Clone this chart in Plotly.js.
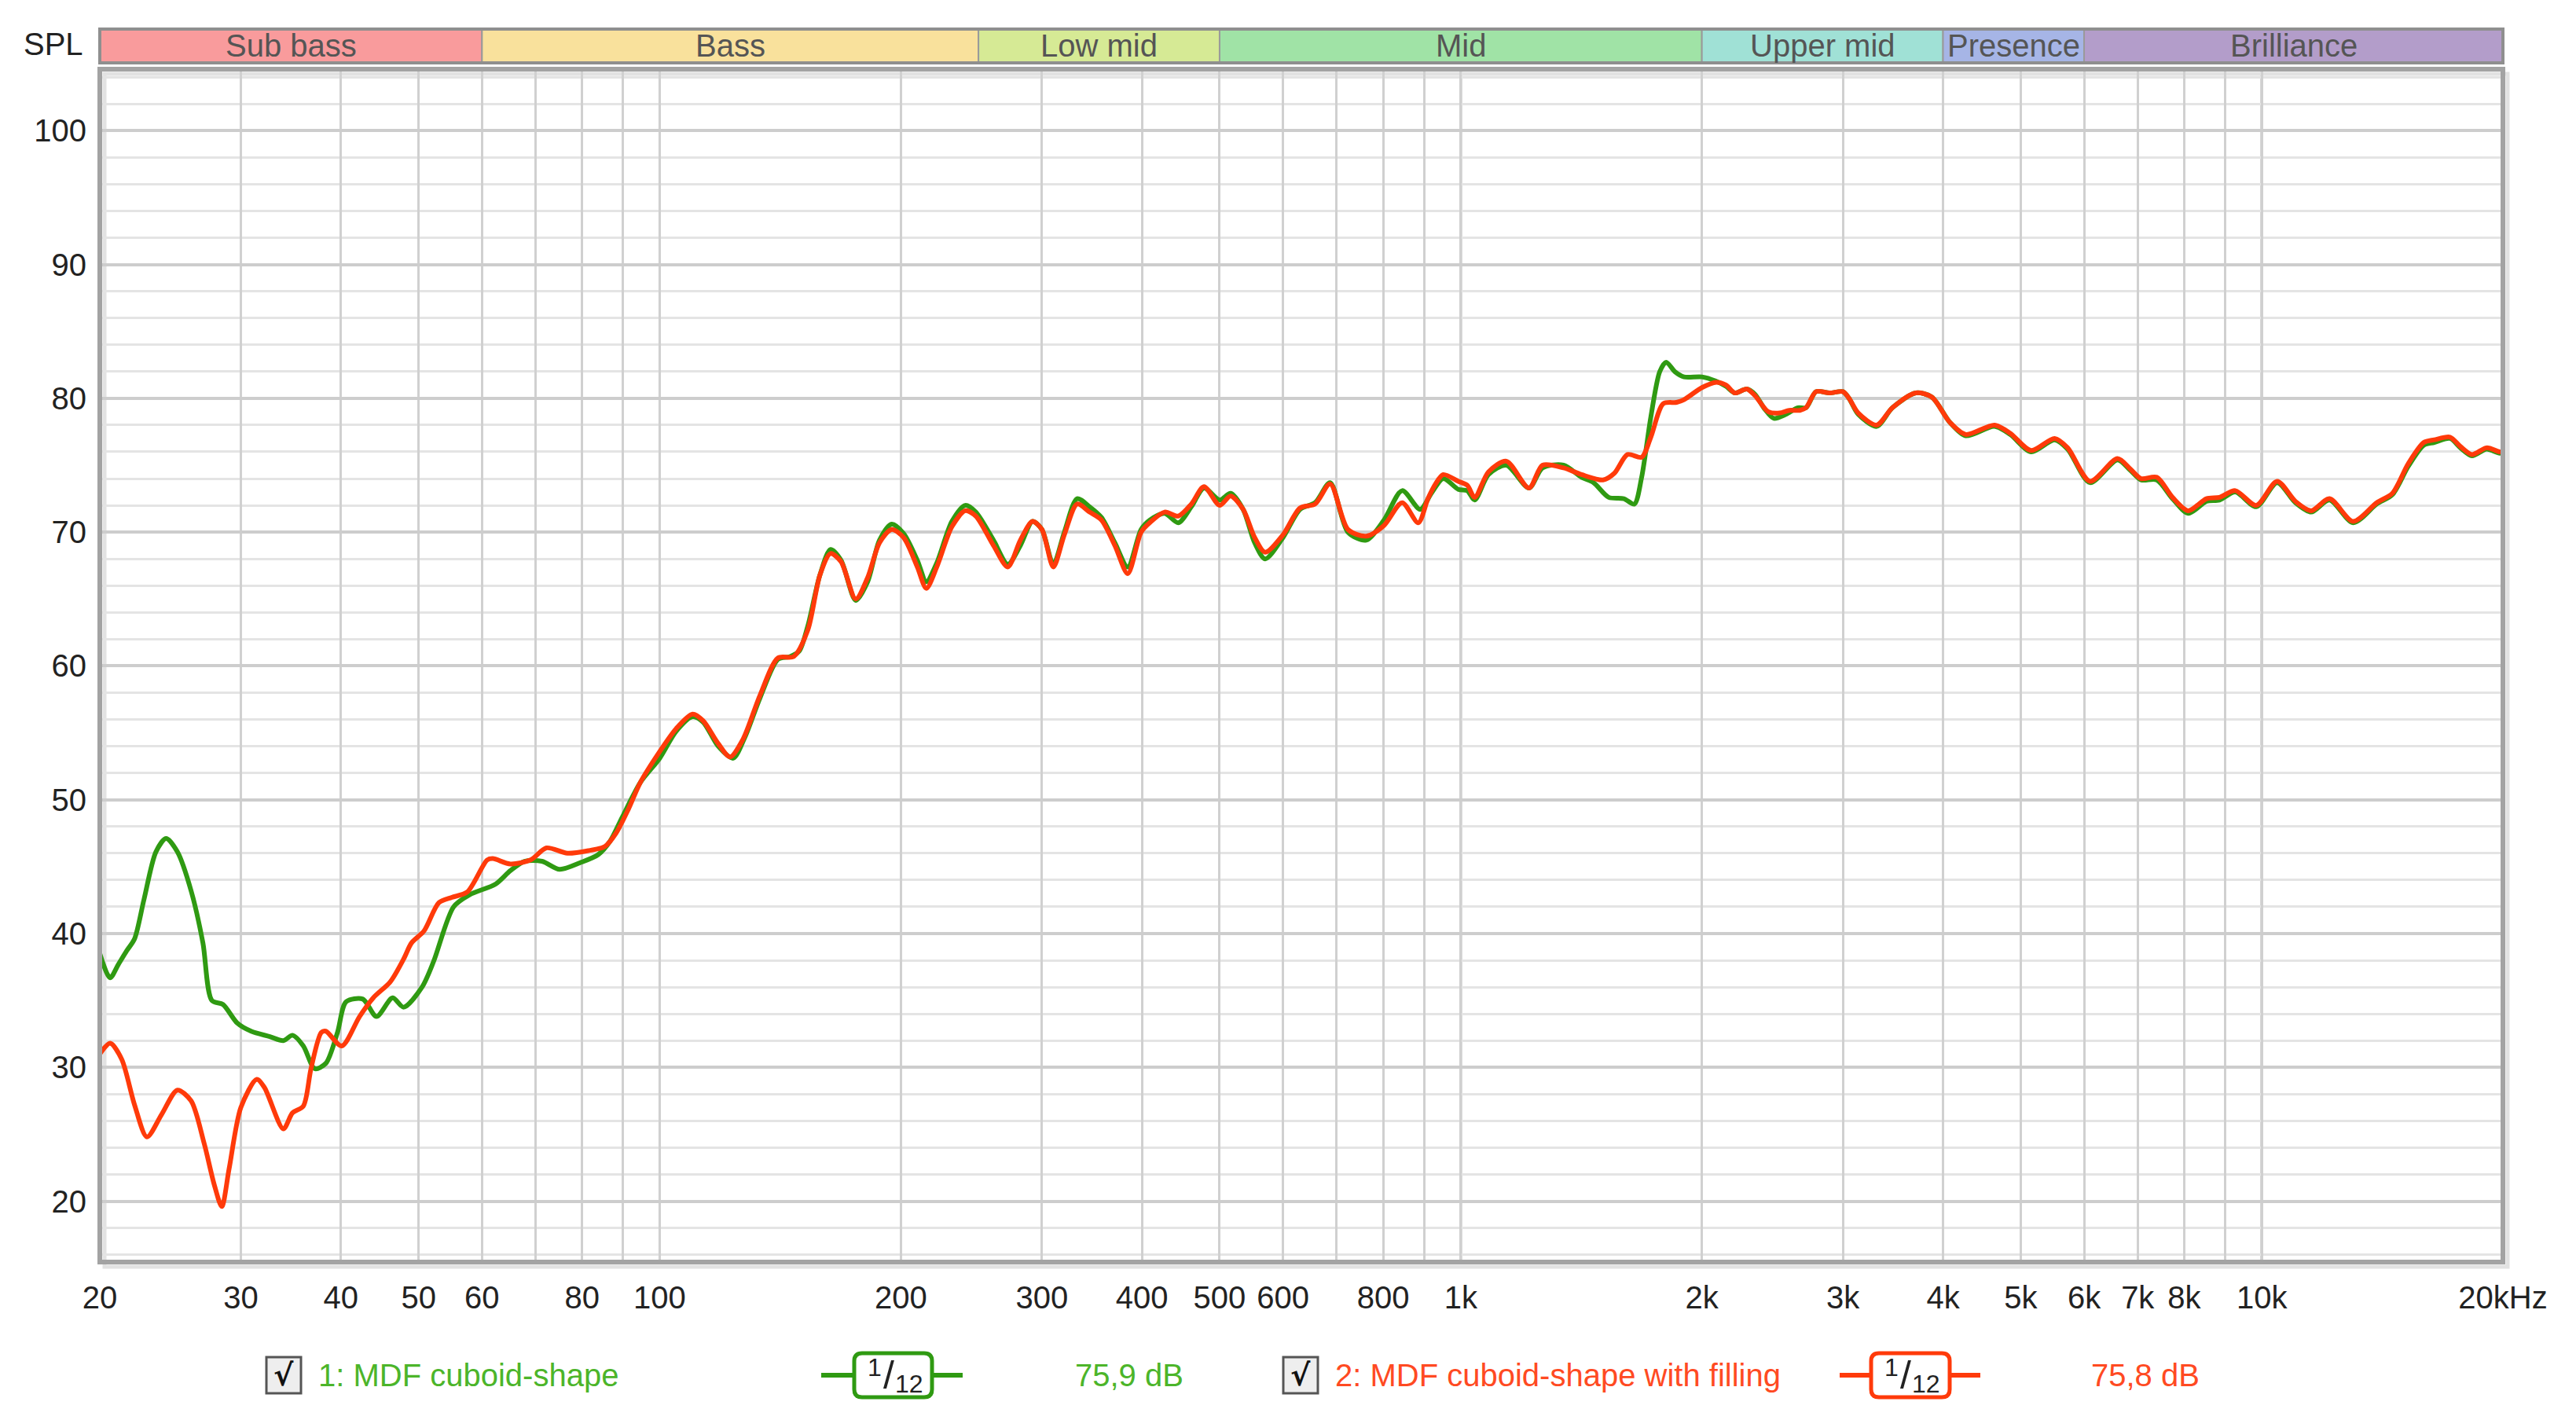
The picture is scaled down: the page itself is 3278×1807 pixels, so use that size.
<!DOCTYPE html>
<html>
<head>
<meta charset="utf-8">
<script src="https://cdn.plot.ly/plotly-3.0.1.min.js"></script>
<style>
  html, body { margin: 0; padding: 0; background: #ffffff; }
  #chart { width: 3278px; height: 1807px; }
</style>
</head>
<body>
<div id="chart"></div>
<script>
// ---------------- DATA ----------------
const freqGreen = [20,20.6,21.1,21.6,22.1,22.7,23.5,24.2,25.0,26.0,26.9,27.6,28.5,29.7,30.9,32.6,33.9,34.8,35.9,37.1,38.3,39.6,40.6,42.6,44.3,46.4,47.9,50.5,52.2,55.3,57.9,62.4,65.1,67.8,71.3,75.0,79.6,83.8,86.7,89.8,94.6,100,104.8,109.9,113.3,118.3,123.5,127.8,133.4,140.5,145.5,149.3,153.1,158.5,163.4,168.4,175.7,181.8,188.1,194.8,201.6,209.7,215.2,221.8,231.6,240.7,248.1,261,272,282,292,300,310,320,332,344,356,370,384,399,409,427,444,461,478,500,516,535,553,570,600,630,658,687,723,762,802,845,890,919,951,993,1019,1041,1083,1140,1217,1265,1344,1415,1465,1530,1598,1647,1682,1727,1772,1805,1850,1900,2000,2080,2143,2199,2276,2330,2396,2460,2546,2636,2698,2777,2886,3000,3053,3135,3305,3459,3699,3873,4080,4270,4637,4851,5152,5512,5724,6103,6606,6857,7068,7395,7737,8095,8530,8857,9267,9843,10451,11016,11526,12148,13004,13914,14557,15230,15932,16420,17180,17700,18300,19080,19810,20000];
const splGreen = [38.5,36.7,37.7,38.7,39.6,42.5,46.1,47.1,46.1,43.2,39.3,35.0,34.7,33.3,32.7,32.3,32.0,32.4,31.6,29.9,30.3,32.6,34.9,35.1,33.8,35.2,34.5,36.0,37.9,42.0,42.9,43.7,44.7,45.4,45.4,44.8,45.3,45.9,46.9,48.7,51.3,53.1,55.1,56.2,55.8,54.0,53.1,54.7,57.6,60.5,60.7,61.1,63.0,66.8,68.7,67.9,64.9,66.3,69.4,70.6,69.9,67.9,66.3,67.7,70.8,72.0,71.5,69.4,67.6,69.0,70.8,70.2,67.6,70.0,72.5,71.9,71.1,69.2,67.4,70.2,70.9,71.4,70.7,71.9,73.3,72.4,72.9,71.7,69.2,68.0,69.6,71.7,72.2,73.7,70.0,69.4,70.9,73.1,71.7,72.9,74.0,73.2,73.1,72.4,74.3,75.0,73.3,74.8,75.0,74.1,73.7,72.6,72.5,72.1,74.1,78.6,82.0,82.7,82.0,81.6,81.6,81.3,80.9,80.4,80.7,80.3,79.2,78.5,78.8,79.3,79.3,80.5,80.4,80.5,80.0,78.8,77.9,79.3,80.4,80.1,78.2,77.2,77.9,77.3,76.0,76.9,76.2,73.7,75.4,74.6,73.9,73.9,72.5,71.4,72.3,72.4,73.0,71.9,73.7,72.2,71.5,72.4,70.7,72.1,72.8,74.9,76.5,76.7,77.0,76.3,75.7,76.2,75.9,76.0];

const freqRed = [20,20.6,21.3,22.1,22.9,23.9,25.0,26.0,27.0,27.8,28.4,29.0,30.0,31.4,32.1,33.9,34.8,35.9,36.7,37.8,38.3,40.1,42.2,43.9,46.1,47.9,49.0,50.8,53.0,55.0,57.5,60.9,61.9,65.1,69.0,72.2,76.7,81.6,85.4,88.2,91.4,94.6,100,104.8,109.9,113.3,118.3,122.4,127,133.4,140.5,147,153.1,158.5,163.4,168.4,175.7,181.8,188.1,194.8,201.6,209.7,215.2,221.8,231.6,240.7,248.1,261,272,282,292,300,310,320,332,344,356,370,384,399,409,427,444,461,478,500,516,535,553,570,600,630,658,687,723,762,802,845,885,910,930,951,993,1019,1041,1083,1140,1217,1265,1344,1415,1505,1555,1615,1682,1727,1790,1860,1900,2000,2085,2143,2199,2276,2330,2420,2500,2570,2650,2698,2777,2886,3000,3053,3135,3305,3459,3699,3873,4080,4270,4637,4851,5152,5512,5724,6103,6606,6857,7068,7395,7737,8095,8530,8857,9267,9843,10451,11016,11526,12148,13004,13914,14557,15230,15932,16420,17180,17700,18300,19080,19810,20000];
const splRed = [31.0,31.8,30.6,27.2,24.8,26.5,28.3,27.5,24.3,21.2,19.6,22.4,27.0,29.1,28.5,25.4,26.6,27.1,29.9,32.6,32.7,31.6,33.8,35.2,36.4,38.1,39.3,40.2,42.3,42.7,43.1,45.5,45.6,45.2,45.5,46.4,46.0,46.2,46.5,47.5,49.3,51.3,53.6,55.3,56.4,55.9,54.2,53.2,54.5,57.8,60.6,60.7,62.7,66.8,68.4,67.8,65.0,66.6,69.2,70.2,69.6,67.4,65.8,67.4,70.4,71.6,71.2,69.0,67.4,69.4,70.8,70.2,67.4,69.8,72.1,71.5,70.9,69.0,66.9,70.0,70.7,71.5,71.2,72.1,73.4,72.0,72.7,71.7,69.6,68.5,69.8,71.8,72.1,73.6,70.2,69.7,70.5,72.2,70.7,72.5,73.6,74.3,73.8,73.5,72.6,74.5,75.3,73.3,75.0,74.8,74.3,73.9,74.4,75.8,75.6,77.1,79.6,79.7,79.9,80.8,81.2,81.0,80.4,80.7,80.2,79.0,78.9,79.1,79.1,79.3,80.5,80.4,80.5,80.0,78.9,78.0,79.3,80.4,80.1,78.2,77.3,78.0,77.4,76.1,77.0,76.3,73.8,75.5,74.7,74.0,74.1,72.6,71.6,72.5,72.6,73.1,72.0,73.8,72.3,71.6,72.5,70.8,72.2,72.9,75.1,76.7,76.9,77.1,76.4,75.8,76.3,76.0,76.0];

const seriesNames = ["1: MDF cuboid-shape", "2: MDF cuboid-shape with filling"];
const seriesAverages = ["75,9 dB", "75,8 dB"];
const smoothingLabel = ["1", "12"];

const xTickVals = [20,30,40,50,60,70,80,90,100,200,300,400,500,600,700,800,900,1000,2000,3000,4000,5000,6000,7000,8000,9000,10000,20000];
const xTickText = ["20","30","40","50","60","","80","","100","200","300","400","500","600","","800","","1k","2k","3k","4k","5k","6k","7k","8k","","10k","20kHz"];
const yTickVals = [20,30,40,50,60,70,80,90,100];
const decadeLines = [100, 1000, 10000];

const bandNames = ["Sub bass","Bass","Low mid","Mid","Upper mid","Presence","Brilliance"];
const bandEdges = [20, 60, 250, 500, 2000, 4000, 6000, 20000];
const bandColors = ["#f99b9c","#f9e19c","#d6ea95","#a0e3a6","#a0e1d6","#a6b5e6","#b39dca"];

// ---------------- GEOMETRY ----------------
const W = 3278, H = 1807;
const L = 127, R = 93, T = 88, B = 201;
const PW = W - L - R, PH = H - T - B;
const px = X => (X - L) / PW;          // pixel -> paper x
const py = Y => (H - B - Y) / PH;      // pixel -> paper y

const GREEN = "#2f9a12", RED = "#ff3a0a";
const GREEN_TXT = "#4cb52a", RED_TXT = "#ff4a22";
const FONT = "Liberation Sans, Arial, sans-serif";

const traces = [
  { x: freqGreen, y: splGreen, type: "scatter", mode: "lines", name: seriesNames[0],
    line: { color: GREEN, width: 6, shape: "spline", smoothing: 0.8 }, hoverinfo: "skip" },
  { x: freqRed, y: splRed, type: "scatter", mode: "lines", name: seriesNames[1],
    line: { color: RED, width: 6, shape: "spline", smoothing: 0.8 }, hoverinfo: "skip" }
];

const shapes = [];
const annotations = [];

// decade lines (darker)
decadeLines.forEach(f => shapes.push({
  type: "line", xref: "x", yref: "paper", x0: f, x1: f, y0: 0, y1: 1,
  line: { color: "#8c8c8c", width: 3 }, layer: "between"
}));

// frequency band bar
const bandY0 = py(80), bandY1 = py(37);
bandNames.forEach((n, i) => {
  shapes.push({
    type: "rect", xref: "x", yref: "paper",
    x0: bandEdges[i], x1: bandEdges[i + 1], y0: bandY0, y1: bandY1,
    fillcolor: bandColors[i], line: { color: "#9a9a9a", width: 2 }, layer: "above"
  });
  annotations.push({
    xref: "x", yref: "paper",
    x: (Math.log10(bandEdges[i]) + Math.log10(bandEdges[i + 1])) / 2,
    y: (bandY0 + bandY1) / 2, yanchor: "middle", xanchor: "center",
    text: n, showarrow: false, font: { family: FONT, size: 40, color: "#555555" }
  });
});
// band bar outer border
shapes.push({ type: "rect", xref: "paper", yref: "paper", x0: 0, x1: 1, y0: bandY0, y1: bandY1,
  line: { color: "#8f8f8f", width: 4 }, fillcolor: "rgba(0,0,0,0)", layer: "above" });

// plot frame + shadow
shapes.push({ type: "rect", xref: "paper", yref: "paper", x0: px(L + 6), x1: px(W - R + 6), y0: py(H - B + 6), y1: py(T + 6),
  line: { color: "#e2e2e2", width: 5 }, fillcolor: "rgba(0,0,0,0)", layer: "below" });
shapes.push({ type: "rect", xref: "paper", yref: "paper", x0: 0, x1: 1, y0: 0, y1: 1,
  line: { color: "#a3a3a3", width: 6 }, fillcolor: "rgba(0,0,0,0)", layer: "above" });

// SPL label
annotations.push({ xref: "paper", yref: "paper", x: px(68), y: py(56), xanchor: "center", yanchor: "middle",
  text: "SPL", showarrow: false, font: { family: FONT, size: 40, color: "#222222" } });

// ---------------- LEGEND ROW ----------------
const legY = 1750;
function legendItem(cbX, txtX, txtColor, name, lineColor, iconX0, iconBox0, iconBox1, iconX1, avgX, avg) {
  // checkbox
  shapes.push({ type: "rect", xref: "paper", yref: "paper",
    x0: px(cbX), x1: px(cbX + 44), y0: py(legY + 23), y1: py(legY - 23),
    fillcolor: "#eeeeee", line: { color: "#555555", width: 3 }, layer: "above" });
  annotations.push({ xref: "paper", yref: "paper", x: px(cbX + 22), y: py(legY), xanchor: "center", yanchor: "middle",
    text: "<b>\u221A</b>", showarrow: false, font: { family: "DejaVu Sans", size: 38, color: "#111111" } });
  // name
  annotations.push({ xref: "paper", yref: "paper", x: px(txtX), y: py(legY), xanchor: "left", yanchor: "middle",
    text: name, showarrow: false, font: { family: FONT, size: 40, color: txtColor } });
  // smoothing icon
  shapes.push({ type: "line", xref: "paper", yref: "paper", x0: px(iconX0), x1: px(iconBox0), y0: py(legY), y1: py(legY),
    line: { color: lineColor, width: 6 }, layer: "above" });
  shapes.push({ type: "line", xref: "paper", yref: "paper", x0: px(iconBox1), x1: px(iconX1), y0: py(legY), y1: py(legY),
    line: { color: lineColor, width: 6 }, layer: "above" });
  const r = 10, bx0 = iconBox0, bx1 = iconBox1, by0 = legY - 28, by1 = legY + 28;
  const P = (X, Y) => px(X) + "," + py(Y);
  shapes.push({ type: "path", xref: "paper", yref: "paper", layer: "above",
    path: "M" + P(bx0 + r, by0) + " L" + P(bx1 - r, by0) + " Q" + P(bx1, by0) + " " + P(bx1, by0 + r) +
          " L" + P(bx1, by1 - r) + " Q" + P(bx1, by1) + " " + P(bx1 - r, by1) +
          " L" + P(bx0 + r, by1) + " Q" + P(bx0, by1) + " " + P(bx0, by1 - r) +
          " L" + P(bx0, by0 + r) + " Q" + P(bx0, by0) + " " + P(bx0 + r, by0) + " Z",
    fillcolor: "#ffffff", line: { color: lineColor, width: 5 } });
  const cx = (bx0 + bx1) / 2;
  annotations.push({ xref: "paper", yref: "paper", x: px(cx - 24), y: py(legY - 10), xanchor: "center", yanchor: "middle",
    text: smoothingLabel[0], showarrow: false, font: { family: FONT, size: 32, color: "#222222" } });
  annotations.push({ xref: "paper", yref: "paper", x: px(cx - 6), y: py(legY), xanchor: "center", yanchor: "middle",
    text: "/", showarrow: false, font: { family: FONT, size: 50, color: "#222222" } });
  annotations.push({ xref: "paper", yref: "paper", x: px(cx + 20), y: py(legY + 11), xanchor: "center", yanchor: "middle",
    text: smoothingLabel[1], showarrow: false, font: { family: FONT, size: 32, color: "#222222" } });
  // average
  annotations.push({ xref: "paper", yref: "paper", x: px(avgX), y: py(legY), xanchor: "left", yanchor: "middle",
    text: avg, showarrow: false, font: { family: FONT, size: 40, color: txtColor } });
}
legendItem(339, 403, GREEN_TXT, seriesNames[0], GREEN, 1045, 1087, 1186, 1225, 1366, seriesAverages[0]);
legendItem(1633, 1697, RED_TXT, seriesNames[1], RED, 2341, 2381, 2481, 2520, 2659, seriesAverages[1]);

const layout = {
  width: W, height: H,
  margin: { l: L, r: R, t: T, b: B, pad: 0 },
  paper_bgcolor: "#ffffff", plot_bgcolor: "#ffffff",
  showlegend: false,
  font: { family: FONT, size: 40, color: "#222222" },
  xaxis: {
    type: "log", range: [Math.log10(20), Math.log10(20000)],
    tickmode: "array", tickvals: xTickVals, ticktext: xTickText,
    showgrid: true, gridcolor: "#d0d0d0", gridwidth: 3,
    zeroline: false, showline: false, ticks: "", ticklabelstandoff: 18,
    tickfont: { family: FONT, size: 40, color: "#222222" }, fixedrange: true
  },
  yaxis: {
    range: [15.45, 104.6],
    tickmode: "array", tickvals: yTickVals,
    showgrid: true, gridcolor: "#cdcdcd", gridwidth: 4,
    minor: { dtick: 2, tick0: 0, showgrid: true, gridcolor: "#e4e4e4", gridwidth: 3, ticks: "" },
    zeroline: false, showline: false, ticks: "", ticklabelstandoff: 16,
    tickfont: { family: FONT, size: 40, color: "#222222" }, fixedrange: true
  },
  shapes: shapes,
  annotations: annotations
};

Plotly.newPlot("chart", traces, layout, { staticPlot: true, displayModeBar: false });
</script>
</body>
</html>
